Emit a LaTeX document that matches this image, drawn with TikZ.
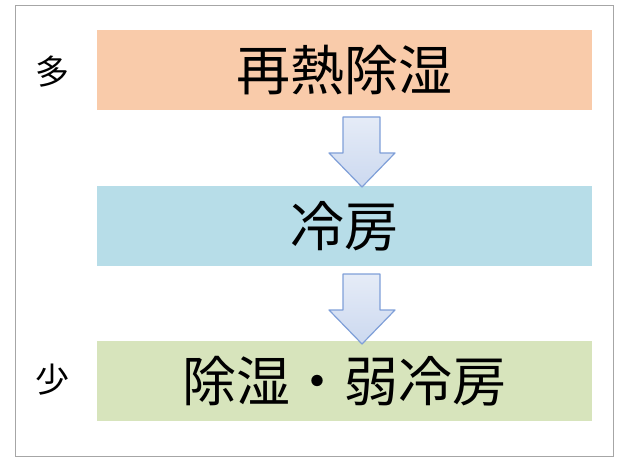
\documentclass[tikz,border=0pt]{standalone}
\usepackage{fontspec}
\newfontfamily\cjk{Noto Sans CJK JP}
\definecolor{c1}{HTML}{F9CBAA}
\definecolor{c2}{HTML}{B7DDE8}
\definecolor{c3}{HTML}{D7E4BC}
\definecolor{arl}{HTML}{7F9FD8}
\begin{document}
\begin{tikzpicture}[x=1pt,y=-1pt,
  band/.style={minimum width=495pt,minimum height=80pt,inner sep=0pt,font=\cjk\fontsize{54}{54}\selectfont},
  side/.style={font=\cjk\fontsize{34}{34}\selectfont},
  darrow/.style={draw=arl,line width=1.2pt,line join=round,top color=white!80!arl,bottom color=white!60!arl}]
\useasboundingbox (0,0) rectangle (620,465);
\draw[gray!70,line width=1pt] (15,6) rectangle (613,456);
\node[band,fill=c1] (a) at (344.5,70) {再熱除湿};
\node[band,fill=c2] (b) at (344.5,226) {冷房};
\node[band,fill=c3] (c) at (344.5,381) {除湿・弱冷房};
\node[side] (m) at (52,72) {多};
\node[side] (s) at (52,380) {少};
\foreach \t in {117,274}{
\draw[darrow] (343,\t) -- (380,\t) -- (380,\t+36) -- (395,\t+36) -- (362,\t+70) -- (329,\t+36) -- (343,\t+36) -- cycle;}
\end{tikzpicture}
\end{document}
